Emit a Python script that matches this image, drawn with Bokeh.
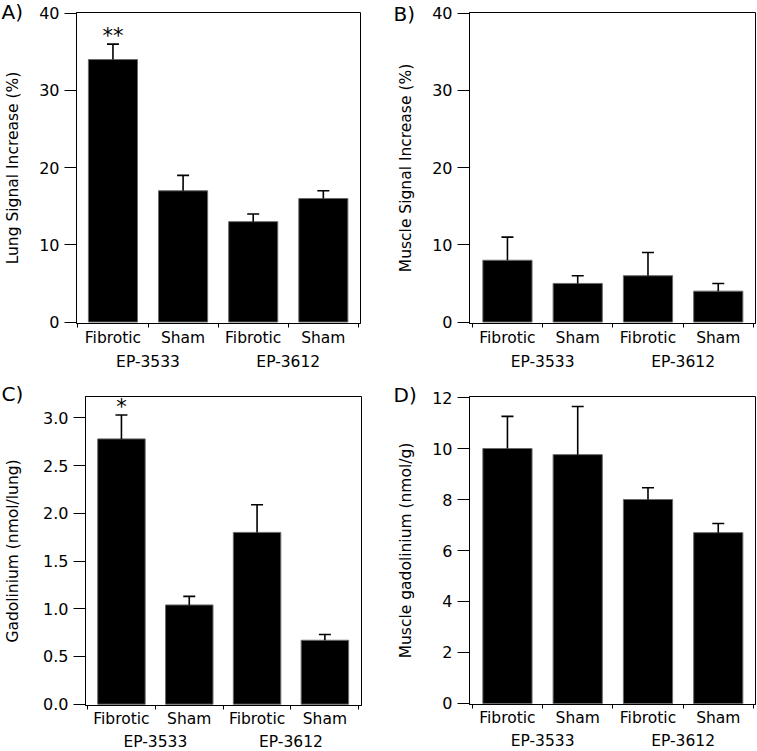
from bokeh.plotting import figure
from bokeh.models import (ColumnDataSource, Whisker, TeeHead, FixedTicker, LinearAxis,
                          Range1d)
from bokeh.layouts import column, row
from bokeh.embed import file_html
from bokeh.resources import INLINE
from bokeh.core.properties import value

# ---------------- data ----------------
categories = ["Fibrotic", "Sham", "Fibrotic", "Sham"]
groups = ["EP-3533", "EP-3612"]

lung_signal = [34.0, 17.0, 13.0, 16.0]
lung_signal_err = [2.0, 2.0, 1.0, 1.0]

muscle_signal = [8.0, 5.0, 6.0, 4.0]
muscle_signal_err = [3.0, 1.0, 3.0, 1.0]

lung_gd = [2.78, 1.04, 1.80, 0.67]
lung_gd_err = [0.25, 0.09, 0.29, 0.06]

muscle_gd = [10.0, 9.76, 8.0, 6.7]
muscle_gd_err = [1.26, 1.89, 0.46, 0.36]

signif_a = ["**", "", "", ""]
signif_b = ["", "", "", ""]
signif_c = ["*", "", "", ""]
signif_d = ["", "", "", ""]

ticks_a = [0, 10, 20, 30, 40]
ticks_c = [0.0, 0.5, 1.0, 1.5, 2.0, 2.5, 3.0]
ticks_d = [0, 2, 4, 6, 8, 10, 12]

FONT = "DejaVu Sans"


def plain_axis(a, standoff, size):
    a.axis_line_color = None
    a.major_tick_line_color = None
    a.minor_tick_line_color = None
    a.major_tick_out = 0
    a.major_tick_in = 0
    a.minor_tick_out = 0
    a.minor_tick_in = 0
    a.major_label_standoff = standoff
    a.major_label_text_font = FONT
    a.major_label_text_font_size = size
    a.major_label_text_color = "black"


def panel(vals, errs, stars, yticks, yfmt, yr, ylabel, tag,
          bl, bt, br, bb, fw, fh, xr, label_standoff, s1, s2, tag_dx, tag_standoff):
    p = figure(frame_width=fw, frame_height=fh, output_backend="svg", toolbar_location=None,
               x_range=Range1d(*xr), y_range=Range1d(*yr),
               min_border_left=bl, min_border_top=bt,
               min_border_right=br, min_border_bottom=bb)
    p.grid.visible = False
    p.outline_line_color = "black"
    p.outline_line_width = 1
    p.background_fill_color = "white"
    p.border_fill_color = "white"

    # panel tag as the figure title, pulled down beside the frame
    p.title.text = tag
    p.title.align = "left"
    p.title.offset = tag_dx
    p.title.standoff = tag_standoff
    p.title.text_font = FONT
    p.title.text_font_size = "20px"
    p.title.text_font_style = "normal"
    p.title.text_color = "black"

    xs = [i + 1 for i in range(len(categories))]
    src = ColumnDataSource(dict(x=xs, top=vals,
                                upper=[v + e for v, e in zip(vals, errs)],
                                star=stars))
    p.vbar(x="x", top="top", bottom=0, width=0.7, source=src,
           fill_color="black", line_color="#6a6a6a", line_width=1)
    w = Whisker(source=src, base="x", lower="top", upper="upper",
                line_color="black", line_width=1.6,
                upper_head=TeeHead(size=12, line_color="black", line_width=1.6),
                lower_head=None, level="overlay")
    p.add_layout(w)
    p.text(x="x", y="upper", text="star", source=src, text_align="center",
           text_baseline="alphabetic", y_offset=-8, text_font=value(FONT),
           text_font_size="21px", text_color="black")

    # y axis
    ya = p.yaxis[0]
    ya.ticker = FixedTicker(ticks=yticks)
    ya.major_label_overrides = {t: yfmt.format(t) for t in yticks}
    ya.major_tick_out = 12
    ya.major_tick_in = 0
    ya.minor_tick_line_color = None
    ya.major_label_standoff = 5
    ya.major_label_text_font = FONT
    ya.major_label_text_font_size = "16px"
    ya.major_label_text_color = "black"
    ya.axis_line_color = "black"
    ya.axis_label = ylabel
    ya.axis_label_text_font = FONT
    ya.axis_label_text_font_size = "15.5px"
    ya.axis_label_text_font_style = "normal"
    ya.axis_label_text_color = "black"
    ya.axis_label_standoff = label_standoff

    bounds = [i + 0.5 for i in range(len(categories) + 1)]

    # x axis 1: category labels + short boundary ticks
    xa = p.xaxis[0]
    xa.ticker = FixedTicker(ticks=xs, minor_ticks=bounds)
    xa.major_label_overrides = {x: c for x, c in zip(xs, categories)}
    xa.major_tick_line_color = None
    xa.major_tick_out = 0
    xa.major_tick_in = 0
    xa.minor_tick_out = 4
    xa.minor_tick_in = 0
    xa.minor_tick_line_color = "black"
    xa.axis_line_color = "black"
    xa.major_label_standoff = s1
    xa.major_label_text_font = FONT
    xa.major_label_text_font_size = "15.5px"
    xa.major_label_text_color = "black"

    # x axis 2: group labels
    gx = [(xs[2 * i] + xs[2 * i + 1]) / 2 for i in range(len(groups))]
    xg = LinearAxis(ticker=FixedTicker(ticks=gx),
                    major_label_overrides={x: g for x, g in zip(gx, groups)})
    plain_axis(xg, s2, "15.5px")
    p.add_layout(xg, "below")

    # long end ticks at the frame edges (fixed at the bottom of the frame)
    xe = LinearAxis(ticker=FixedTicker(ticks=[bounds[0], bounds[-1]]),
                    fixed_location=yr[0])
    xe.axis_line_color = None
    xe.major_tick_out = 13
    xe.major_tick_in = 0
    xe.major_tick_line_color = "black"
    xe.minor_tick_line_color = None
    xe.major_label_text_font_size = "0px"
    xe.major_label_overrides = {bounds[0]: "", bounds[-1]: ""}
    p.add_layout(xe, "below")
    return p


pA = panel(lung_signal, lung_signal_err, signif_a, ticks_a, "{:d}", (-0.19, 40.09),
           "Lung Signal Increase (%)", "A)", 76, 12, 20, 51, 284, 311,
           (0.48, 4.53), 14, 1, 3, -75, -23)
pB = panel(muscle_signal, muscle_signal_err, signif_b, ticks_a, "{:d}", (-0.19, 40.09),
           "Muscle Signal Increase (%)", "B)", 89, 12, 2, 51, 286, 311,
           (0.46, 4.53), 14, 1, 3, -76, -26)
pC = panel(lung_gd, lung_gd_err, signif_c, ticks_c, "{:.1f}", (-0.0135, 3.224),
           "Gadolinium (nmol/lung)", "C)", 85, 21, 19, 46, 276, 309,
           (0.47, 4.54), 18, 0, 2, -84, -18)
pD = panel(muscle_gd, muscle_gd_err, signif_d, ticks_d, "{:d}", (-0.04, 12.04),
           "Muscle gadolinium (nmol/g)", "D)", 89, 22, 2, 46, 286, 308,
           (0.46, 4.53), 14, 0, 2, -76, -21)

layout = column(row(pA, pB), row(pC, pD))
open("out.html", "w").write(file_html(layout, INLINE))
